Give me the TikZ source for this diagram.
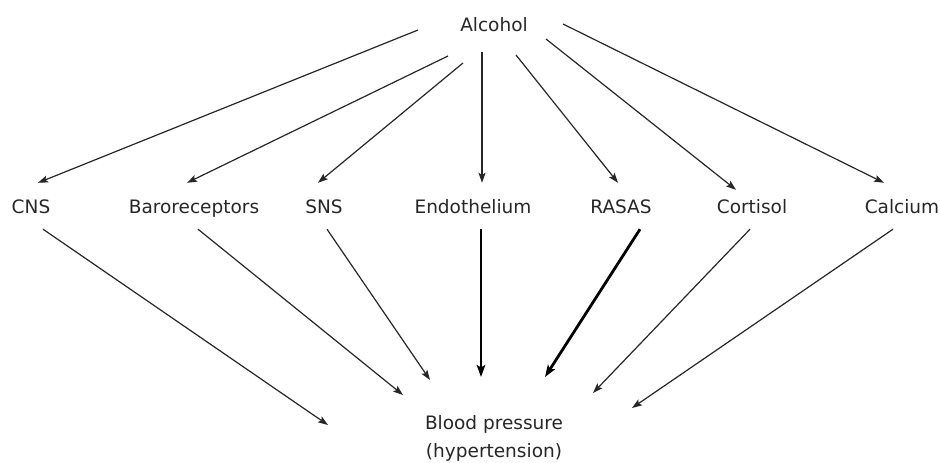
\documentclass[tikz,border=0pt]{standalone}
\usepackage{fontspec}
\setmainfont{DejaVu Sans}
\usetikzlibrary{arrows.meta}
\begin{document}
\begin{tikzpicture}[x=1pt,y=-1pt,
    lean/.style={draw=black!85, line width=1.2pt, -{Stealth[length=10pt,width=7pt,inset=2pt]}},
    bold/.style={draw=black, line width=2.8pt, -{Stealth[length=12pt,width=8.5pt,inset=2.5pt]}}]

      \useasboundingbox (0,0) rectangle (940,463);

      \begin{scope}[every node/.style={anchor=base, font=\fontsize{18.5}{22}\selectfont, text=black!85,
          text height=14pt, text depth=0pt, inner xsep=0pt, inner ysep=16pt}]
        \node (alc)   at (494,31)  {Alcohol};
        \node (cns)   at (31,213)  {CNS};
        \node (baro)  at (194,213) {Baroreceptors};
        \node (sns)   at (324,213) {SNS};
        \node (endo)  at (473,213) {Endothelium};
        \node (rasas) at (621,213) {RASAS};
        \node (cort)  at (752,213) {Cortisol};
        \node (calc)  at (902,213) {Calcium};
      \end{scope}

      \node[anchor=north, align=center, inner sep=0pt, text=black!85,
        font=\fontsize{18.5}{28}\selectfont] (bp) at (494,415) {Blood pressure\\(hypertension)};

      % free ends next to Alcohol
      \coordinate (a1) at (418,30);
      \coordinate (a2) at (448,56);
      \coordinate (a3) at (463,63);
      \coordinate (a4) at (482,52);
      \coordinate (a5) at (516,55);
      \coordinate (a6) at (546,39);
      \coordinate (a7) at (563,24);

      % free ends above Blood pressure
      \coordinate (b1) at (328,425);
      \coordinate (b2) at (403,395);
      \coordinate (b3) at (430,380);
      \coordinate (b4) at (481,377);
      \coordinate (b5) at (545,377);
      \coordinate (b6) at (593,393);
      \coordinate (b7) at (632,408);

      \begin{scope}[every edge/.style={lean}]
        \path (a1) edge ([xshift=7pt]cns.north);
        \path (a2) edge ([xshift=-7pt]baro.north);
        \path (a3) edge ([xshift=-6pt]sns.north);
        \path (a4) edge ([xshift=9pt]endo.north);
        \path (a5) edge ([xshift=-3pt]rasas.north);
        \path (a6) edge ([xshift=-16pt,yshift=-7pt]cort.north);
        \path (a7) edge ([xshift=-18pt]calc.north);

        \path ([xshift=12pt]cns.south)  edge (b1);
        \path ([xshift=4pt]baro.south)  edge (b2);
        \path ([xshift=3pt]sns.south)   edge (b3);
        \path ([xshift=8pt]endo.south)  edge[bold] (b4);
        \path ([xshift=19pt]rasas.south) edge[bold] (b5);
        \path ([xshift=-2pt]cort.south) edge (b6);
        \path ([xshift=-9pt]calc.south) edge (b7);
      \end{scope}

    \end{tikzpicture}
\end{document}
